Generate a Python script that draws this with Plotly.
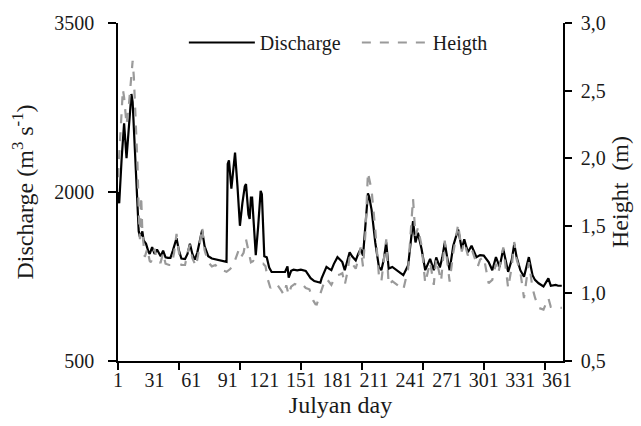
import plotly.graph_objects as go

# Discharge (m3 s-1)
q_day = [1, 2, 4, 6, 8, 10, 12, 13, 15, 17, 18, 19, 21, 22, 24, 26, 27, 29, 31, 33, 35, 36, 38, 40, 42, 44,
         46, 49, 51, 53, 56, 58, 60, 62, 64, 66, 68, 70, 72, 75, 78, 80, 83, 86, 89, 90, 91, 92, 94, 97, 99,
         101, 103, 105, 106, 108, 109, 110, 111, 113, 114, 116, 118, 119, 121, 123, 125, 127, 130, 133, 136,
         138, 140, 141, 143, 145, 148, 151, 155, 157, 159, 162, 165, 167, 168, 170, 172, 174, 176, 178, 181,
         183, 185, 187, 189, 191, 193, 196, 198, 200, 202, 204, 206, 207, 209, 212, 215, 217, 219, 221, 223,
         226, 230, 235, 239, 241, 243, 245, 247, 250, 253, 257, 260, 262, 265, 267, 269, 271, 273, 276, 280,
         283, 285, 288, 291, 295, 298, 301, 305, 308, 311, 314, 317, 321, 324, 326, 328, 331, 334, 338, 341,
         343, 346, 350, 354, 356, 360, 362, 365]
discharge = [2000, 1900, 2300, 2610, 2300, 2600, 2870, 2800, 2330, 1850, 1650, 1600, 1650, 1570, 1540, 1470,
             1450, 1510, 1450, 1490, 1440, 1430, 1480, 1420, 1415, 1415, 1480, 1590, 1480, 1410, 1405, 1450,
             1540, 1450, 1400, 1460, 1560, 1660, 1520, 1430, 1410, 1405, 1395, 1390, 1378, 1380, 2250, 2280,
             2030, 2350, 2050, 1700, 1900, 2050, 2070, 1800, 1760, 1950, 1950, 1600, 1440, 1700, 2010, 1980,
             1430, 1420, 1330, 1290, 1290, 1285, 1290, 1290, 1340, 1240, 1300, 1310, 1305, 1310, 1300, 1270,
             1235, 1210, 1205, 1195, 1233, 1291, 1335, 1320, 1306, 1360, 1422, 1400, 1378, 1306, 1380, 1465,
             1430, 1393, 1450, 1494, 1436, 1700, 1987, 1960, 1842, 1552, 1335, 1306, 1400, 1552, 1320, 1335,
             1300, 1262, 1349, 1560, 1741, 1552, 1639, 1494, 1306, 1407, 1306, 1420, 1330, 1420, 1550, 1420,
             1306, 1523, 1668, 1494, 1581, 1465, 1523, 1422, 1440, 1436, 1378, 1306, 1422, 1335, 1494, 1291,
             1400, 1538, 1420, 1306, 1248, 1422, 1262, 1220, 1190, 1161, 1233, 1168, 1175, 1168, 1168]

# Height (m)
h_day = [1, 3, 5, 6, 8, 10, 12, 13, 14, 16, 17, 18, 19, 20, 21, 23, 25, 27, 28, 31, 33, 35, 36, 38, 40, 43,
         45, 47, 49, 51, 53, 56, 58, 60, 62, 65, 67, 70, 72, 75, 78, 81, 84, 87, 90, 93, 96, 98, 100, 102,
         104, 106, 108, 110, 112, 114, 117, 120, 122, 124, 126, 129, 132, 135, 137, 139, 141, 143, 146, 149,
         152, 155, 158, 161, 163, 164, 166, 168, 170, 172, 174, 176, 178, 181, 183, 185, 187, 189, 191, 193,
         196, 198, 200, 202, 204, 206, 207, 209, 212, 215, 217, 219, 221, 223, 226, 230, 235, 239, 241, 243,
         245, 247, 250, 253, 257, 260, 262, 266, 269, 271, 273, 276, 280, 283, 285, 288, 291, 296, 298, 301,
         305, 308, 311, 313, 317, 321, 324, 326, 328, 331, 334, 338, 341, 343, 346, 350, 354, 356, 360, 362,
         365]
height = [1.86, 2.2, 2.51, 2.45, 2.25, 2.4, 2.65, 2.72, 2.6, 2.2, 1.95, 1.6, 1.4, 1.72, 1.45, 1.27, 1.33,
          1.24, 1.23, 1.33, 1.24, 1.23, 1.23, 1.30, 1.22, 1.21, 1.21, 1.30, 1.44, 1.30, 1.21, 1.21, 1.30,
          1.36, 1.26, 1.20, 1.30, 1.49, 1.32, 1.23, 1.20, 1.21, 1.18, 1.17, 1.16, 1.18, 1.22, 1.27, 1.32,
          1.27, 1.30, 1.40, 1.30, 1.23, 1.24, 1.23, 1.22, 1.22, 1.20, 1.10, 1.04, 1.07, 1.06, 1.02, 0.99,
          1.06, 0.99, 1.05, 1.07, 1.06, 1.07, 1.04, 1.03, 0.95, 0.92, 0.918, 0.97, 1.038, 1.08, 1.11, 1.09,
          1.063, 1.10, 1.135, 1.14, 1.15, 1.063, 1.15, 1.268, 1.22, 1.183, 1.25, 1.34, 1.196, 1.45, 1.896,
          1.85, 1.763, 1.473, 1.135, 1.087, 1.25, 1.40, 1.063, 1.09, 1.063, 1.027, 1.183, 1.45, 1.70, 1.425,
          1.485, 1.353, 1.075, 1.232, 1.063, 1.256, 1.09, 1.39, 1.25, 1.087, 1.30, 1.51, 1.31, 1.38, 1.28,
          1.33, 1.196, 1.25, 1.27, 1.075, 1.10, 1.22, 1.15, 1.34, 1.04, 1.20, 1.38, 1.25, 1.16, 0.966, 1.232,
          1.04, 0.97, 0.893, 0.88, 0.966, 0.90, 0.895, 0.893, 0.893]

x_label_vals = list(range(1, 362, 30))
x_tick_vals = list(range(1, 352, 50))
y1_ticks = [500, 2000, 3500]
y2_ticks = [0.5, 1.0, 1.5, 2.0, 2.5, 3.0]
y2_text = ["0,5", "1,0", "1,5", "2,0", "2,5", "3,0"]

FONT = "Liberation Serif, Times New Roman, serif"
FS = 20

fig = go.Figure()
fig.add_trace(go.Scatter(x=q_day, y=discharge, name="Discharge", mode="lines",
                         line=dict(color="black", width=2.2), yaxis="y"))
fig.add_trace(go.Scatter(x=h_day, y=height, name="Heigth", mode="lines",
                         line=dict(color="#9a9a9a", width=2.2, dash="dash"), yaxis="y2"))

fig.update_layout(
    width=641, height=426,
    margin=dict(l=118, r=76, t=16, b=65),
    paper_bgcolor="white", plot_bgcolor="white",
    font=dict(family=FONT, size=FS, color="#1a1a1a"),
    showlegend=True,
    legend=dict(orientation="h", x=0.148, y=1.0, xanchor="left", yanchor="top",
                bgcolor="rgba(0,0,0,0)", font=dict(size=FS), itemwidth=66,
                entrywidth=92, entrywidthmode="pixels", tracegroupgap=0),
    xaxis=dict(range=[1, 366], tickmode="array", tickvals=x_label_vals,
               ticks="", showline=True, linecolor="black", linewidth=1.5,
               showgrid=False, zeroline=False,
               minor=dict(tickmode="array", tickvals=x_tick_vals, ticks="outside",
                          ticklen=7, tickcolor="black", tickwidth=1.5, showgrid=False),
               title=dict(text="Julyan day", standoff=6)),
    yaxis=dict(range=[500, 3500], tickmode="array", tickvals=y1_ticks,
               ticks="outside", ticklen=8, tickcolor="black", tickwidth=1.5,
               ticklabelstandoff=10,
               showline=True, linecolor="black", linewidth=1.5,
               showgrid=False, zeroline=False,
               title=dict(text="Discharge (m<sup>3</sup> s<sup>-1</sup>)", standoff=14)),
    yaxis2=dict(range=[0.5, 3.0], overlaying="y", side="right", tickmode="array",
                tickvals=y2_ticks, ticktext=y2_text,
                ticks="outside", ticklen=7, tickcolor="black", tickwidth=1.5,
                ticklabelstandoff=5,
                showline=True, linecolor="black", linewidth=1.5,
                showgrid=False, zeroline=False,
                title=dict(text="Height  (m)", standoff=6)),
)

fig.write_html("out.html")
